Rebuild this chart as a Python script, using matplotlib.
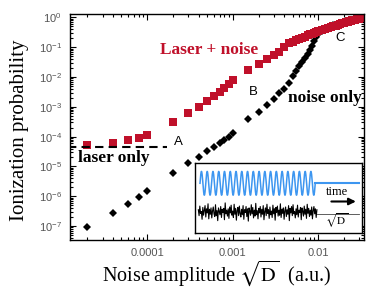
import numpy as np
import matplotlib
matplotlib.use("Agg")
import matplotlib.pyplot as plt
from matplotlib.ticker import LogLocator, NullFormatter, FixedLocator, FixedFormatter

plt.rcParams['mathtext.fontset'] = 'stix'

# noise amplitudes (a.u.)
amp = [2e-5, 4e-5, 6e-5, 8e-5, 1e-4, 2e-4, 3e-4, 4e-4, 5e-4, 6e-4, 7e-4, 8e-4, 9e-4, 1e-3,
       1.5e-3, 2e-3, 2.5e-3, 3e-3, 3.5e-3, 4e-3, 4.5e-3, 5e-3, 5.5e-3, 6e-3, 6.5e-3, 7e-3,
       7.5e-3, 8e-3, 8.5e-3, 9e-3, 9.5e-3, 0.010, 0.011, 0.012, 0.013, 0.014, 0.015, 0.016,
       0.017, 0.018, 0.019, 0.020, 0.021, 0.022, 0.023, 0.024, 0.025, 0.026, 0.027, 0.028,
       0.029, 0.030, 0.031, 0.032, 0.033, 0.034]

# laser + noise
p_laser_noise = [5.2e-5, 6.0e-5, 7.7e-5, 9.3e-5, 1.14e-4, 3.2e-4, 6.4e-4, 1.02e-3, 1.6e-3, 2.4e-3,
                 3.2e-3, 4.3e-3, 6.0e-3, 7.8e-3, 0.0175, 0.027, 0.042, 0.055, 0.072, 0.10, 0.135,
                 0.155, 0.17, 0.19, 0.21, 0.23, 0.25, 0.27, 0.285, 0.30, 0.32, 0.34, 0.37, 0.40,
                 0.43, 0.47, 0.50, 0.53, 0.56, 0.60, 0.63, 0.66, 0.69, 0.72, 0.75, 0.78, 0.80,
                 0.83, 0.85, 0.87, 0.89, 0.91, 0.93, 0.95, 0.96, 0.98]

# noise only
p_noise = [9.1e-8, 2.7e-7, 5.5e-7, 9.8e-7, 1.55e-6, 5.9e-6, 1.35e-5, 2.1e-5, 3.4e-5, 4.6e-5,
           6.2e-5, 8.0e-5, 1.0e-4, 1.3e-4, 3.8e-4, 6.9e-4, 1.15e-3, 1.8e-3, 2.9e-3, 4.0e-3,
           6.5e-3, 0.011, 0.016, 0.023, 0.032, 0.043, 0.060, 0.080, 0.11, 0.16, 0.22, 0.28,
           0.35, 0.41, 0.46, 0.51, 0.55, 0.58, 0.61, 0.64, 0.67, 0.69, 0.71, 0.73, 0.75, 0.77,
           0.79, 0.81, 0.83, 0.85, 0.87, 0.89, 0.90, 0.92, 0.93, 0.94]

# laser only level
laser_only = 4.5e-5
laser_only_xmax = 1.7e-4

xticks = [1e-4, 1e-3, 1e-2]
xticklabels = ['0.0001', '0.001', '0.01']

# inset: schematic noise trace
noise_vals = [
    0.25, -0.40, 0.65, -0.15, 0.05, -0.80, 0.50, -0.35, 0.20, 0.70,
    -0.55, 0.35, -0.10, 0.90, -0.75, 0.30, -0.25, 0.45, -0.65, 0.10,
    0.55, -0.20, -0.50, 0.80, -0.40, 0.15, -0.95, 0.45, 0.05, -0.30,
    0.60, -0.60, 0.30, -0.05, 0.40, -0.85, 1.00, -0.20, 0.20, -0.45,
    0.35, -0.70, 0.55, -0.10, 0.75, -0.35, 0.10, -0.60, 0.85, -0.25,
    0.40, -0.90, 0.15, 0.50, -0.40, 0.65, -0.15, -0.55, 0.30, -0.30,
    0.70, -0.80, 0.25, -0.05, 0.60, -0.50, 0.35, -1.00, 0.45, 0.10,
    -0.35, 0.80, -0.20, 0.50, -0.65, 0.20, -0.45, 0.95, -0.30, 0.15,
    -0.75, 0.40, -0.10, 0.60, -0.55, 0.30, -0.25, 0.70, -0.85, 0.05,
    0.45, -0.40, 0.85, -0.15, 0.25, -0.70, 0.55, -0.30, 0.10, -0.60,
    0.75, -0.20, 0.35, -0.90, 0.50, -0.05, 0.65, -0.45, 0.20, -0.35,
    0.90, -0.60, 0.30, -0.15, 0.45, -0.80, 0.15, 0.55, -0.50, 0.25,
    -0.25, 0.70, -0.95, 0.40, -0.10, 0.60, -0.40, 0.80, -0.20, 0.05,
    -0.65, 0.35, -0.30, 0.75, -0.55, 0.20, -0.05, 0.50, -0.85, 0.45,
    0.10, -0.45, 0.65, -0.25, 0.30, -0.70, 0.85, -0.15, 0.40, -0.50,
    0.20, -0.35, 0.55, -0.75, 0.15, 0.60, -0.20, 0.35, -0.60, 0.25]
n_cycles = 20

red = '#c0102a'

fig = plt.figure(figsize=(3.74, 2.9), dpi=100)
ax = fig.add_axes([70/374, 50/290, 294/374, 226/290])

ax.plot(amp, p_noise, 'D', color='black', ms=4.4, mew=0)
ax.plot(amp, p_laser_noise, 's', color=red, ms=5.2, mew=0)
ax.plot([1.2e-5, laser_only_xmax], [laser_only, laser_only], color='black', lw=1.5,
        dashes=(4, 2.5))

ax.set_xscale('log')
ax.set_yscale('log')
ax.set_xlim(1.25e-5, 0.0342)
ax.set_ylim(3.4e-8, 1.31)

ax.xaxis.set_major_locator(FixedLocator(xticks))
ax.xaxis.set_major_formatter(FixedFormatter(xticklabels))
ax.xaxis.set_minor_locator(LogLocator(base=10, subs=np.arange(2, 10), numticks=20))
ax.xaxis.set_minor_formatter(NullFormatter())
ax.yaxis.set_major_locator(LogLocator(base=10, numticks=20))
ax.yaxis.set_minor_locator(LogLocator(base=10, subs=np.arange(2, 10), numticks=20))
ax.yaxis.set_minor_formatter(NullFormatter())

ax.tick_params(which='both', direction='in', top=True, right=True, width=0.8)
ax.tick_params(which='major', length=4, labelsize=8, labelcolor='#555555', pad=6)
ax.tick_params(which='minor', length=2)
for lab in ax.get_xticklabels() + ax.get_yticklabels():
    lab.set_family('Liberation Sans')
for s in ax.spines.values():
    s.set_linewidth(1.0)

ax.text(160/374, 1 - 50/290, 'Laser + noise', transform=fig.transFigure, color=red,
        family='Liberation Serif', weight='bold', fontsize=12.5, va='center')
ax.text(288/374, 1 - 98/290, 'noise only', transform=fig.transFigure, color='black',
        family='Liberation Serif', weight='bold', fontsize=12.5, va='center')
ax.text(78/374, 1 - 158/290, 'laser only', transform=fig.transFigure, color='black',
        family='Liberation Serif', weight='bold', fontsize=12.5, va='center')
for txt, px, py in [('A', 178, 142), ('B', 253, 92), ('C', 340, 38)]:
    ax.text(px/374, 1 - py/290, txt, transform=fig.transFigure, family='Liberation Sans',
            fontsize=9.5, ha='center', va='center')

fig.text(20/374, 1 - 130/290, 'Ionization probability', rotation=90, ha='center',
         va='center', family='Liberation Serif', fontsize=15)
fig.text(217/374, 1 - 281/290, r'Noise amplitude $\sqrt{\mathrm{D}}$  (a.u.)', ha='center',
         va='baseline', family='Liberation Serif', fontsize=14.5)

# inset
ins = fig.add_axes([195/374, 57/290, 167/374, 70/290])
ins.set_xlim(0, 1)
ins.set_ylim(0, 1)
ins.set_xticks([])
ins.set_yticks([])
for s in ins.spines.values():
    s.set_linewidth(1.0)

t = np.linspace(0.03, 0.72, 600)
ins.plot(t, 0.71 + 0.17 * np.sin(2 * np.pi * n_cycles * (t - 0.03) / 0.69), color='#3d96f0', lw=1.1)
ins.plot([0.72, 0.98], [0.71, 0.71], color='#3d96f0', lw=1.5)

tn = np.linspace(0.02, 0.73, len(noise_vals))
ins.plot(tn, 0.30 + 0.13 * np.array(noise_vals), color='black', lw=0.8)
ins.plot([0.73, 0.98], [0.27, 0.27], color='#444444', lw=0.6)
ins.text(0.78, 0.17, r'$\sqrt{\mathrm{D}}$', fontsize=8, va='center', ha='left')
ins.text(0.85, 0.58, 'time', family='Liberation Serif', fontsize=9, ha='center', va='center')
ins.annotate('', xy=(0.98, 0.45), xytext=(0.80, 0.45),
             arrowprops=dict(arrowstyle='-|>', color='black', lw=1.5, mutation_scale=10))

fig.savefig('out.png', dpi=100)
